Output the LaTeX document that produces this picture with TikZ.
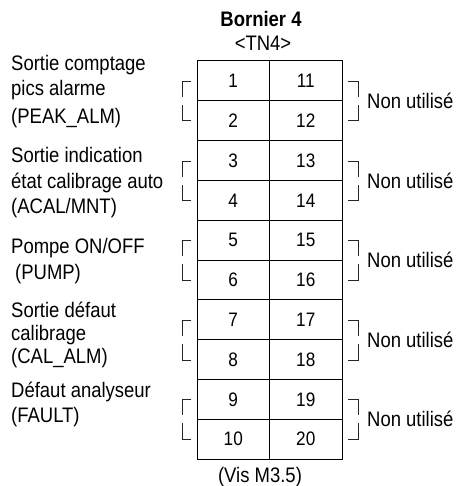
\documentclass[tikz,border=0pt]{standalone}
\usepackage{fontspec}
\setmainfont{Liberation Sans}[FakeStretch=0.88]
\usepackage{tikz}

\tikzset{
  cell/.style={draw, line width=1pt, minimum width=72.5pt, minimum height=39.8pt, inner sep=0pt, font=\fontsize{19.5}{22}\selectfont},
  lbl/.style={anchor=base west, inner sep=0pt, font=\fontsize{21}{24}\selectfont},
  unused/.style={anchor=west, inner sep=0pt, font=\fontsize{21}{24}\selectfont},
  brk/.style={line width=0.9pt, black!85}
}

\begin{document}
\begin{tikzpicture}[x=1pt, y=-1pt]
\useasboundingbox (0,0) rectangle (459,486);
% title
\node (title) [anchor=base, inner sep=0pt, font=\fontsize{21}{24}\selectfont\bfseries] at (261,27) {Bornier 4};
\node (tn) [anchor=base, inner sep=0pt, font=\fontsize{21}{24}\selectfont] at (263,51) {<TN4>};
% terminal block
\node (c1) [cell] at (233.25,80.9) {1};
\node (c11) [cell] at (305.75,80.9) {11};
\node (c2) [cell] at (233.25,120.7) {2};
\node (c12) [cell] at (305.75,120.7) {12};
\node (c3) [cell] at (233.25,160.5) {3};
\node (c13) [cell] at (305.75,160.5) {13};
\node (c4) [cell] at (233.25,200.3) {4};
\node (c14) [cell] at (305.75,200.3) {14};
\node (c5) [cell] at (233.25,240.1) {5};
\node (c15) [cell] at (305.75,240.1) {15};
\node (c6) [cell] at (233.25,279.9) {6};
\node (c16) [cell] at (305.75,279.9) {16};
\node (c7) [cell] at (233.25,319.7) {7};
\node (c17) [cell] at (305.75,319.7) {17};
\node (c8) [cell] at (233.25,359.5) {8};
\node (c18) [cell] at (305.75,359.5) {18};
\node (c9) [cell] at (233.25,399.3) {9};
\node (c19) [cell] at (305.75,399.3) {19};
\node (c10) [cell] at (233.25,439.1) {10};
\node (c20) [cell] at (305.75,439.1) {20};
\node (vis) [anchor=base, inner sep=0pt, font=\fontsize{21}{24}\selectfont] at (260,482) {(Vis M3.5)};
% left labels
\node (l1a) [lbl] at (11,71) {Sortie comptage};
\node (l1b) [lbl] at (11,96) {pics alarme};
\node (l1c) [lbl] at (11,124) {(PEAK\_ALM)};
\node (l2a) [lbl] at (11,163) {Sortie indication};
\node (l2b) [lbl] at (11,188) {état calibrage auto};
\node (l2c) [lbl] at (11,213) {(ACAL/MNT)};
\node (l3a) [lbl] at (11,253) {Pompe ON/OFF};
\node (l3b) [lbl] at (11,279) {\hspace*{4pt}(PUMP)};
\node (l4a) [lbl] at (11,317) {Sortie défaut};
\node (l4b) [lbl] at (11,340) {calibrage};
\node (l4c) [lbl] at (11,363) {(CAL\_ALM)};
\node (l5a) [lbl] at (11,397) {Défaut analyseur};
\node (l5b) [lbl] at (11,422) {(FAULT)};
% left brackets
\draw [brk] (191,81) -- (182,81) -- (182,97);
\draw [brk] (182,105) -- (182,120) -- (191,120);
\draw [brk] (191,161) -- (182,161) -- (182,177);
\draw [brk] (182,185) -- (182,200) -- (191,200);
\draw [brk] (191,240) -- (182,240) -- (182,256);
\draw [brk] (182,264) -- (182,280) -- (191,280);
\draw [brk] (191,320) -- (182,320) -- (182,336);
\draw [brk] (182,344) -- (182,360) -- (191,360);
\draw [brk] (191,399) -- (182,399) -- (182,415);
\draw [brk] (182,423) -- (182,439) -- (191,439);
% right brackets
\draw [brk] (348,81) -- (358,81) -- (358,97);
\draw [brk] (358,105) -- (358,120) -- (348,120);
\draw [brk] (348,161) -- (358,161) -- (358,177);
\draw [brk] (358,185) -- (358,200) -- (348,200);
\draw [brk] (348,240) -- (358,240) -- (358,256);
\draw [brk] (358,264) -- (358,280) -- (348,280);
\draw [brk] (348,320) -- (358,320) -- (358,336);
\draw [brk] (358,344) -- (358,360) -- (348,360);
\draw [brk] (348,399) -- (358,399) -- (358,415);
\draw [brk] (358,423) -- (358,439) -- (348,439);
% unused
\node (n1) [unused] at (367,101) {Non utilisé};
\node (n2) [unused] at (367,181) {Non utilisé};
\node (n3) [unused] at (367,260) {Non utilisé};
\node (n4) [unused] at (367,340) {Non utilisé};
\node (n5) [unused] at (367,419) {Non utilisé};
\end{tikzpicture}
\end{document}
